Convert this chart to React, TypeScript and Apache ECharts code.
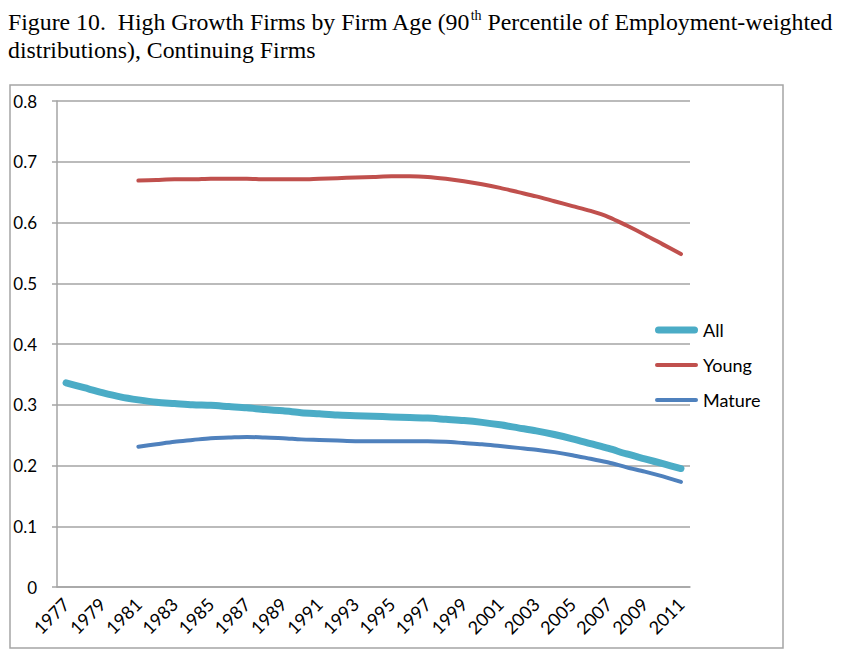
import React, { useEffect, useRef } from "react";
import * as echarts from "echarts";

const years = [
  "1977", "1978", "1979", "1980", "1981", "1982", "1983", "1984", "1985", "1986",
  "1987", "1988", "1989", "1990", "1991", "1992", "1993", "1994", "1995", "1996",
  "1997", "1998", "1999", "2000", "2001", "2002", "2003", "2004", "2005", "2006",
  "2007", "2008", "2009", "2010", "2011",
];

const allFirms = [
  0.336, 0.328, 0.32, 0.313, 0.308, 0.304, 0.302, 0.3, 0.299, 0.297,
  0.295, 0.292, 0.29, 0.287, 0.285, 0.283, 0.282, 0.281, 0.28, 0.279,
  0.278, 0.276, 0.274, 0.271, 0.267, 0.262, 0.257, 0.251, 0.244, 0.236,
  0.228, 0.219, 0.211, 0.203, 0.195,
];

// young and mature start in 1981
const youngFirms = [
  null, null, null, null, 0.669, 0.67, 0.671, 0.671, 0.672, 0.672,
  0.672, 0.671, 0.671, 0.671, 0.672, 0.673, 0.674, 0.675, 0.676, 0.676,
  0.675, 0.672, 0.668, 0.663, 0.657, 0.65, 0.643, 0.635, 0.627, 0.619,
  0.609, 0.595, 0.58, 0.564, 0.548,
];

const matureFirms = [
  null, null, null, null, 0.231, 0.235, 0.239, 0.242, 0.245, 0.246,
  0.247, 0.246, 0.245, 0.243, 0.242, 0.241, 0.24, 0.24, 0.24, 0.24,
  0.24, 0.239, 0.237, 0.235, 0.232, 0.229, 0.226, 0.222, 0.217, 0.211,
  0.205, 0.197, 0.19, 0.182, 0.173,
];

const gray = "#A5A5A5";
const labelFont = "Lato, 'Open Sans', sans-serif";
const serif = "'Liberation Serif', serif";

// legend swatches: rounded bars of the same thickness as the lines
const thickIcon = "path://M3.5,0H39.5A3.5,3.5,0,0,1,39.5,7H3.5A3.5,3.5,0,0,1,3.5,0Z";
const thinIcon = "path://M2,0H41A2,2,0,0,1,41,4H2A2,2,0,0,1,2,0Z";

const App = () => {
  const chartRef = useRef<HTMLDivElement>(null);

  useEffect(() => {
    if (!chartRef.current) return;
    const chart = echarts.init(chartRef.current, null, { renderer: "svg" });

    const option: echarts.EChartsCoreOption = {
      animation: false,
      title: {
        left: 0,
        top: 0,
        padding: 0,
        text:
          "{a|Figure 10.  High Growth Firms by Firm Age (90}{s|th}{a| Percentile of Employment-weighted}\n{a|distributions), Continuing Firms}",
        textStyle: {
          fontWeight: "normal",
          rich: {
            a: {
              fontFamily: serif,
              fontWeight: "normal",
              fontSize: 23.8,
              color: "#000",
              lineHeight: 28,
            },
            s: {
              fontFamily: serif,
              fontWeight: "normal",
              fontSize: 14,
              color: "#000",
              verticalAlign: "top",
              lineHeight: 28,
              padding: [0, 0, 10, 0],
            },
          },
        },
      },
      graphic: [
        {
          type: "rect",
          shape: { x: 2, y: 77, width: 773, height: 563 },
          style: { fill: "none", stroke: gray, lineWidth: 1.5 },
          silent: true,
        },
      ],
      legend: {
        orient: "vertical",
        left: 647,
        top: 313,
        padding: 0,
        itemWidth: 43,
        itemHeight: 14,
        itemGap: 17,
        data: [
          { name: "All", icon: thickIcon },
          { name: "Young", icon: thinIcon },
          { name: "Mature", icon: thinIcon },
        ],
        textStyle: { fontFamily: labelFont, fontSize: 18, color: "#000" },
      },
      grid: { left: 49, right: 151, top: 93, bottom: 68 },
      xAxis: {
        type: "category",
        data: years,
        boundaryGap: true,
        axisLine: { lineStyle: { color: gray, width: 1.5 } },
        axisTick: { interval: 0, length: 5, lineStyle: { color: gray, width: 1.5 } },
        axisLabel: {
          interval: 1,
          rotate: 45,
          margin: 14,
          color: "#000",
          fontFamily: labelFont,
          fontSize: 18,
        },
      },
      yAxis: {
        type: "value",
        min: 0,
        max: 0.8,
        interval: 0.1,
        axisLine: { show: true, lineStyle: { color: gray, width: 1.5 } },
        axisTick: { show: true, length: 5, lineStyle: { color: gray, width: 1.5 } },
        axisLabel: {
          margin: 20,
          color: "#000",
          fontFamily: labelFont,
          fontSize: 17,
        },
        splitLine: { lineStyle: { color: gray, width: 1.5 } },
      },
      series: [
        {
          name: "All",
          type: "line",
          data: allFirms,
          smooth: 0.3,
          symbol: "none",
          color: "#4BACC6",
          lineStyle: { width: 7, cap: "round" },
        },
        {
          name: "Young",
          type: "line",
          data: youngFirms,
          smooth: 0.3,
          symbol: "none",
          color: "#C0504D",
          lineStyle: { width: 4, cap: "round" },
        },
        {
          name: "Mature",
          type: "line",
          data: matureFirms,
          smooth: 0.3,
          symbol: "none",
          color: "#4F81BD",
          lineStyle: { width: 4, cap: "round" },
        },
      ],
    };

    chart.setOption(option);

    return () => {
      chart.dispose();
    };
  }, []);

  return <div ref={chartRef} style={{ width: 833, height: 647 }} />;
};

export default App;
